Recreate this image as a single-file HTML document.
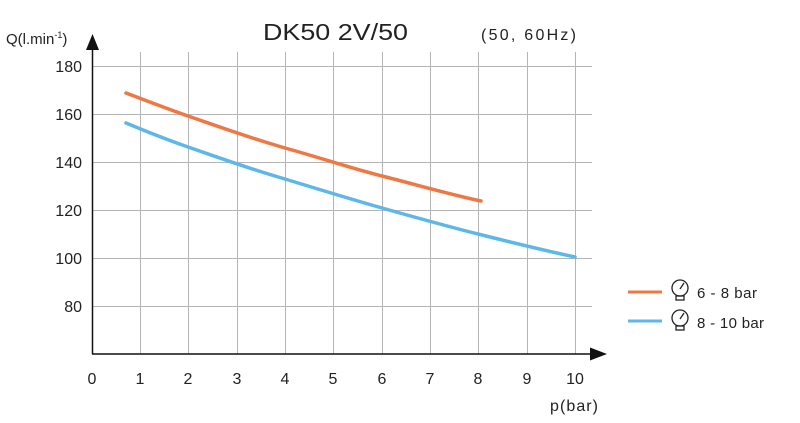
<!DOCTYPE html>
<html><head><meta charset="utf-8"><style>
html,body{margin:0;padding:0;background:#fff;}
svg text{font-family:"Liberation Sans",sans-serif;fill:#222;}
</style></head><body>
<svg width="800" height="418" viewBox="0 0 800 418" xmlns="http://www.w3.org/2000/svg">
<g stroke="#b5b5b5" stroke-width="1">
<line x1="92" y1="66.5" x2="592" y2="66.5"/>
<line x1="92" y1="114.5" x2="592" y2="114.5"/>
<line x1="92" y1="162.5" x2="592" y2="162.5"/>
<line x1="92" y1="210.5" x2="592" y2="210.5"/>
<line x1="92" y1="258.5" x2="592" y2="258.5"/>
<line x1="92" y1="306.5" x2="592" y2="306.5"/>
<line x1="140.5" y1="52" x2="140.5" y2="354"/>
<line x1="188.5" y1="52" x2="188.5" y2="354"/>
<line x1="237.5" y1="52" x2="237.5" y2="354"/>
<line x1="285.5" y1="52" x2="285.5" y2="354"/>
<line x1="333.5" y1="52" x2="333.5" y2="354"/>
<line x1="382.5" y1="52" x2="382.5" y2="354"/>
<line x1="430.5" y1="52" x2="430.5" y2="354"/>
<line x1="478.5" y1="52" x2="478.5" y2="354"/>
<line x1="527.5" y1="52" x2="527.5" y2="354"/>
<line x1="575.5" y1="52" x2="575.5" y2="354"/>
</g>
<g stroke="#111" stroke-width="1.5">
<line x1="92.5" y1="354" x2="92.5" y2="48"/>
<line x1="92" y1="354" x2="592" y2="354"/>
</g>
<polygon points="92.5,34 86,50 99,50" fill="#111"/>
<polygon points="607,354 590,347.5 590,360.5" fill="#111"/>
<path d="M126,93 C150,102 165,108 188,116 C220,127 250,138 285,148 C318,157 350,168 382,176 C414,184 448,194 481,201" fill="none" stroke="#ee7742" stroke-width="3.5" stroke-linecap="round"/>
<path d="M126,123 C150,133 165,139 188,147 C220,158 250,169 285,179 C318,189 350,199 382,208 C414,217 446,226 478,234 C510,242 542,250 575,257" fill="none" stroke="#5db7e8" stroke-width="3.5" stroke-linecap="round"/>
<g font-size="16" text-anchor="end">
<text x="82" y="72">180</text><text x="82" y="120">160</text><text x="82" y="168">140</text>
<text x="82" y="216">120</text><text x="82" y="264">100</text><text x="82" y="312">80</text>
</g>
<g font-size="16" text-anchor="middle">
<text x="92" y="384">0</text><text x="140" y="384">1</text><text x="188" y="384">2</text><text x="237" y="384">3</text>
<text x="285" y="384">4</text><text x="333" y="384">5</text><text x="382" y="384">6</text><text x="430" y="384">7</text>
<text x="478" y="384">8</text><text x="527" y="384">9</text><text x="575" y="384">10</text>
</g>
<text x="550" y="411" font-size="16" textLength="48">p(bar)</text>
<text x="6" y="44" font-size="15">Q(l.min<tspan font-size="9" dy="-6">-1</tspan><tspan dy="6">)</tspan></text>
<text x="263" y="40" font-size="23" textLength="145" lengthAdjust="spacingAndGlyphs">DK50 2V/50</text>
<text x="481" y="40" font-size="16" textLength="95">(50, 60Hz)</text>
<line x1="628" y1="292" x2="662" y2="292" stroke="#ee7742" stroke-width="3"/>
<line x1="628" y1="321" x2="662" y2="321" stroke="#5db7e8" stroke-width="3"/>
<g fill="none" stroke="#222" stroke-width="1.3">
<circle cx="680" cy="288" r="8"/><line x1="680" y1="289" x2="684" y2="283"/><rect x="676" y="296" width="8" height="4"/>
<circle cx="680" cy="318" r="8"/><line x1="680" y1="319" x2="684" y2="313"/><rect x="676" y="326" width="8" height="4"/>
</g>
<text x="697" y="298" font-size="15" textLength="60">6 - 8 bar</text>
<text x="697" y="328" font-size="15" textLength="67">8 - 10 bar</text>
</svg>
</body></html>
